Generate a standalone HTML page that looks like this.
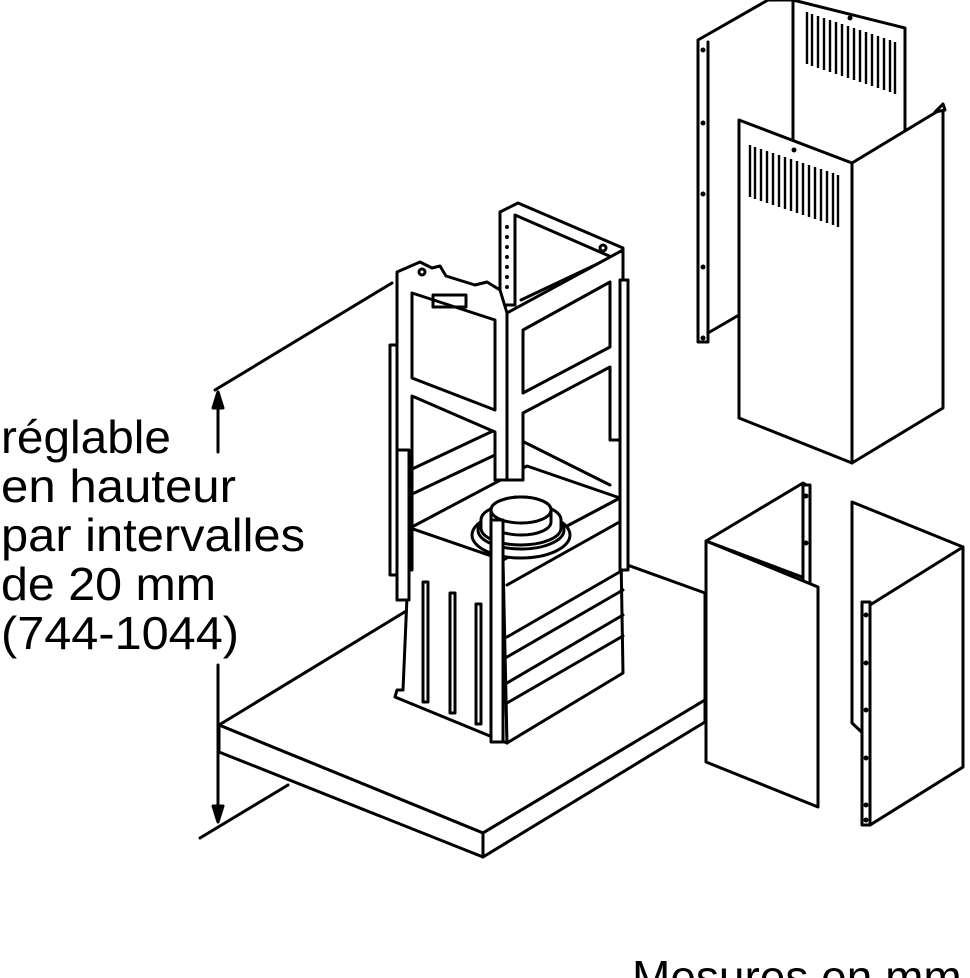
<!DOCTYPE html>
<html><head><meta charset="utf-8"><style>
html,body{margin:0;padding:0;background:#fff;width:970px;height:978px;overflow:hidden}
svg{display:block}
text{font-family:"Liberation Sans",Arial,sans-serif;fill:#000}
</style></head><body>
<svg width="970" height="978" viewBox="0 0 970 978" xmlns="http://www.w3.org/2000/svg">
<g fill="#fff" stroke="#000" stroke-width="3" stroke-linejoin="round" stroke-linecap="round">
<!-- dimension lines -->
<line x1="215" y1="390" x2="392" y2="283"/>
<line x1="200" y1="838" x2="288" y2="785"/>
<line x1="218" y1="452" x2="218" y2="402"/>
<line x1="218" y1="665" x2="218" y2="808"/>
<polygon points="218,392 213,408 223,408" fill="#000"/>
<polygon points="218,822 213,806 223,806" fill="#000"/>
<!-- slab -->
<polygon points="219,725 536,532 705,593 705,700 483,833"/>
<polygon points="219,725 483,833 483,857 219,752"/>
<polygon points="483,833 705,700 705,722 483,857"/>
<!-- back part of frame -->
<polygon points="500,212 518,203 623,248 623,262 515,215 515,305 500,305"/>
<g fill="#000" stroke="none">
<circle cx="507" cy="227" r="2"/><circle cx="507" cy="237" r="2"/><circle cx="507" cy="247" r="2"/><circle cx="507" cy="257" r="2"/><circle cx="507" cy="267" r="2"/><circle cx="507" cy="277" r="2"/><circle cx="507" cy="287" r="2"/>
</g>
<line x1="521" y1="300" x2="610" y2="258" fill="none"/>
<!-- interior back walls -->
<polyline points="410,505 410,470 495,430" fill="none"/>
<polyline points="410,495 495,455" fill="none"/>
<line x1="520" y1="440" x2="610" y2="485" fill="none"/>
<!-- box -->
<polygon points="410,528 527,466 620,498 503,560"/>
<polygon points="410,528 503,560 507,743 395,697 397,690 403,690"/>
<polygon points="503,560 620,498 623,673 507,743"/>
<line x1="507" y1="585" x2="623" y2="520"/>
<line x1="507" y1="637" x2="623" y2="570"/>
<line x1="507" y1="657" x2="623" y2="590"/>
<line x1="507" y1="683" x2="623" y2="615"/>
<line x1="507" y1="703" x2="623" y2="636"/>
<rect x="423" y="582" width="5" height="120"/>
<rect x="450" y="593" width="5" height="120"/>
<rect x="476" y="604" width="5" height="120"/>
<!-- duct -->
<ellipse cx="521" cy="535" rx="49" ry="23"/>
<ellipse cx="521" cy="530" rx="43" ry="19"/>
<path d="M481 528 L481 520 A40 17 0 0 1 561 520 L561 528 A40 17 0 0 1 481 528Z"/>
<path d="M491 522 L491 510 A30 13 0 0 1 551 510 L551 522 A30 13 0 0 1 491 522Z"/>
<ellipse cx="521" cy="510" rx="30" ry="13"/>
<!-- frame left face -->
<path d="M397,272 L420,262 L432,268 L440,266 L446,276 L475,285 L487,282 L500,290 L507,313 L507,480 L495,480 L495,432 L412,396 L412,570 L397,570 Z"/>
<polygon points="412,293 495,320 495,410 412,378"/>
<rect x="433" y="295" width="33" height="12" transform="skew(0,17) translate(0,-132)" fill="none"/>
<circle cx="422" cy="272" r="3"/>
<!-- frame right face -->
<path d="M507,313 L623,250 L623,440 L610,440 L610,367 L523,413 L523,480 L507,480 Z"/>
<polygon points="523,330 610,282 610,347 523,393"/>
<circle cx="603" cy="248" r="3"/>
<!-- side rails -->
<rect x="390" y="345" width="7" height="230"/>
<rect x="397" y="450" width="12" height="150"/>
<rect x="620" y="280" width="8" height="290"/>
<rect x="491" y="520" width="12" height="222"/>
<!-- chimney upper back panel -->
<polygon points="698,40 768,0 793,0 793,140 739,170 739,315 708,333 708,342 698,342"/>
<line x1="708" y1="42" x2="708" y2="333"/>
<polygon points="793,0 905,28 905,200 793,200"/>
<!-- chimney upper front panel -->
<polygon points="739,120 852,163 852,463 739,418"/>
<polygon points="852,163 943,108 943,408 852,463"/>
<polygon points="935,112 943,104 945,110"/>
</g>
<!-- vents -->
<g stroke="#000" stroke-width="2.4" fill="none">
<path d="M807,12 v52 M812,14 v52 M818,16 v52 M824,18 v52 M830,20 v52 M836,22 v52 M842,24 v52 M848,26 v52 M854,28 v52 M860,30 v52 M866,32 v52 M872,34 v52 M878,36 v52 M884,38 v52 M890,40 v52 M895,42 v52"/>
<path d="M750,145 v52 M755,147 v52 M761,149 v52 M767,151 v52 M773,153 v52 M779,155 v52 M785,157 v52 M791,159 v52 M797,161 v52 M803,163 v52 M809,165 v52 M815,167 v52 M821,169 v52 M827,171 v52 M833,173 v52 M838,175 v52"/>
</g>
<g fill="#000"><circle cx="850" cy="18" r="2.5"/><circle cx="794" cy="150" r="2.5"/>
<circle cx="703" cy="50" r="2.5"/><circle cx="703" cy="123" r="2.5"/><circle cx="703" cy="194" r="2.5"/><circle cx="703" cy="267" r="2.5"/><circle cx="703" cy="338" r="2.5"/></g>
<!-- lower panels -->
<g fill="#fff" stroke="#000" stroke-width="3" stroke-linejoin="round">
<polygon points="706,541 803,483 810,487 810,580"/>
<rect x="803" y="485" width="7" height="100"/>
<polygon points="706,541 818,587 818,807 706,762"/>
<polygon points="852,502 963,547 963,767 870,825 870,740 852,723"/>
<polygon points="870,605 963,547 963,767 870,825"/>
<rect x="862" y="602" width="8" height="223"/>
</g>
<g fill="#000"><circle cx="806" cy="496" r="2.5"/><circle cx="806" cy="543" r="2.5"/>
<circle cx="866" cy="615" r="2.5"/><circle cx="866" cy="663" r="2.5"/><circle cx="866" cy="710" r="2.5"/><circle cx="866" cy="758" r="2.5"/><circle cx="866" cy="805" r="2.5"/><circle cx="866" cy="820" r="2.5"/></g>
<!-- text -->
<g font-size="46">
<text x="1" y="453" textLength="170" lengthAdjust="spacingAndGlyphs">réglable</text>
<text x="1" y="502" textLength="235" lengthAdjust="spacingAndGlyphs">en hauteur</text>
<text x="1" y="551" textLength="304" lengthAdjust="spacingAndGlyphs">par intervalles</text>
<text x="1" y="600" textLength="215" lengthAdjust="spacingAndGlyphs">de 20 mm</text>
<text x="1" y="649" textLength="238" lengthAdjust="spacingAndGlyphs">(744-1044)</text>
<text x="632" y="993">Mesures en mm</text>
</g>
</svg>
</body></html>
